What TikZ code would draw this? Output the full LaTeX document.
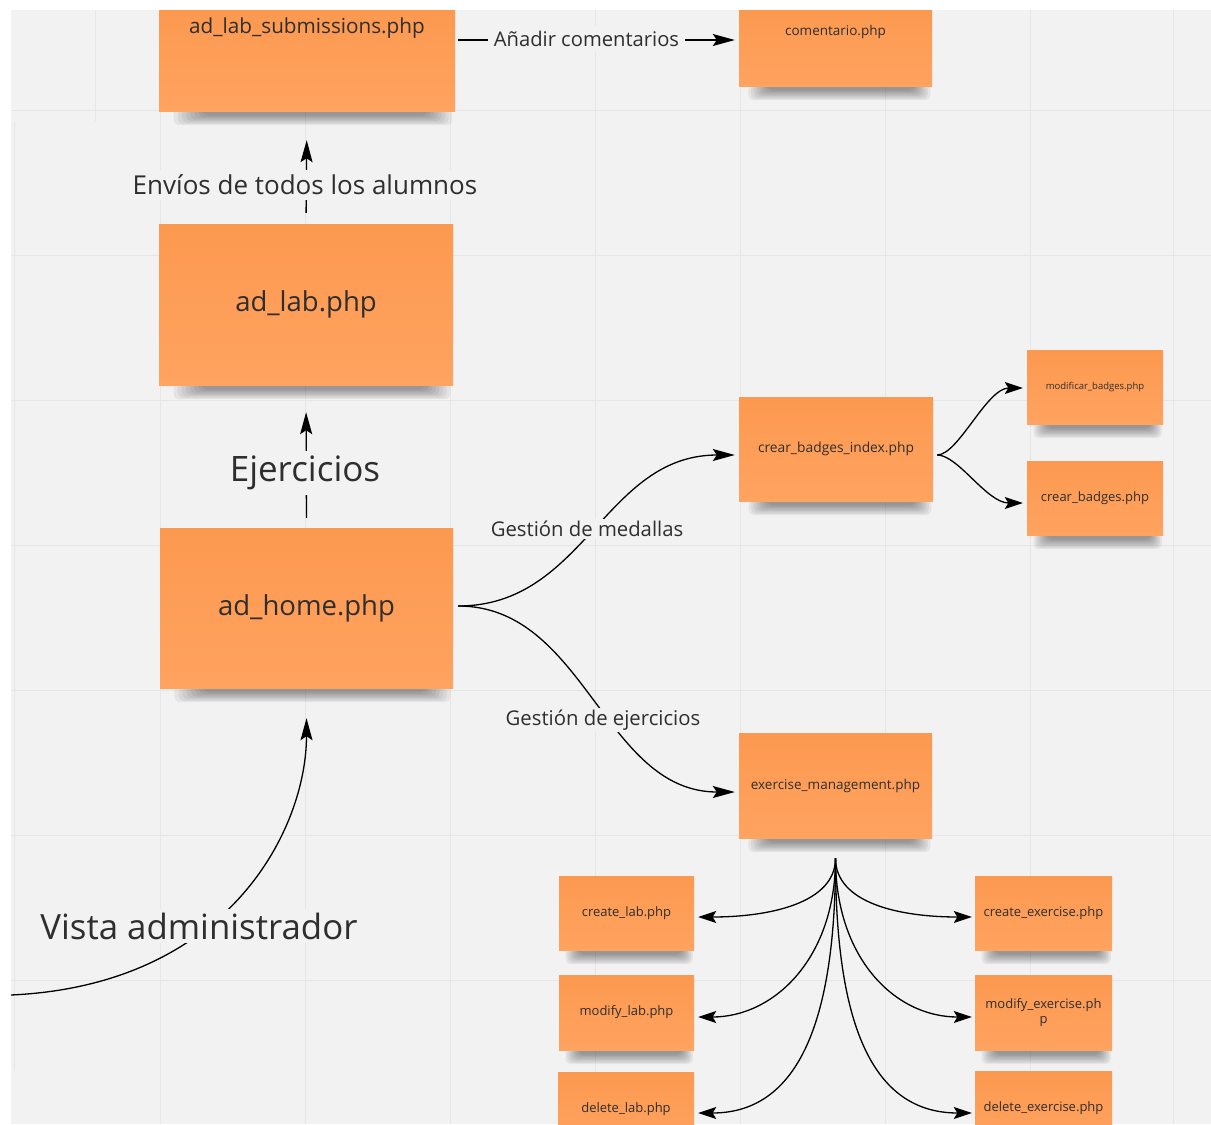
\documentclass[tikz,border=0pt]{standalone}
\usepackage{fontspec}
\setmainfont{Open Sans}
\usetikzlibrary{arrows.meta,calc}

\definecolor{canvas}{HTML}{F2F2F2}
\definecolor{gridline}{HTML}{E6E6E6}
\definecolor{noteTop}{HTML}{FC9950}
\definecolor{noteBot}{HTML}{FFA360}
\definecolor{ink}{HTML}{2E2E2E}

\pgfdeclarelayer{bg}
\pgfdeclarelayer{shadow}
\pgfsetlayers{bg,shadow,main}

\newcommand\fs[1]{\fontsize{#1}{#1}\selectfont}

\tikzset{
  note/.style={draw=none, top color=noteTop, bottom color=noteBot,
    text=ink, inner sep=0pt, align=center},
  link/.style={line width=1.3pt, black},
  tip/.style={-{Stealth[length=22pt,width=12pt,inset=4pt]}},
  smalltip/.style={-{Stealth[length=18pt,width=12pt,inset=3.5pt]}},
  lbl/.style={fill=canvas, text=ink, inner xsep=6pt, inner ysep=5pt},
}

% soft shadow along the lower edge of a sticky note
\newcommand\noteshadow[1]{%
  \begin{pgfonlayer}{shadow}
  \foreach \k in {0,...,7}{%
    \pgfmathsetmacro\sa{0.05+0.014*\k}%
    \pgfmathsetmacro\sb{0.99-0.012*\k}%
    \pgfmathsetmacro\sd{14-1.4*\k}%
    \fill[black,opacity=0.055,rounded corners=5pt]
      ($(#1.south west)!\sa!(#1.south east)+(0,-3)$) rectangle
      ($(#1.south west)!\sb!(#1.south east)+(0,\sd)$);
  }%
  \end{pgfonlayer}}

\begin{document}
\begin{tikzpicture}[x=1pt,y=-1pt]
\useasboundingbox (0,0) rectangle (1211,1125);

% board with its grid
\begin{pgfonlayer}{bg}
  \fill[white] (0,0) rectangle (1211,1125);
  \fill[canvas] (11,10) rectangle (1211,1124);
  \foreach \gx in {160,305,...,1030}
    \draw[gridline, line width=1pt] (\gx,10) -- (\gx,1124);
  \draw[gridline, line width=1pt] (1173,10) -- (1173,1124);
  \foreach \gy in {110,255,...,980}
    \draw[gridline, line width=1pt] (11,\gy) -- (1211,\gy);
  \draw[gridline, line width=1pt] (95,10) -- (95,121);
  \draw[gridline, line width=1pt] (14,122) -- (14,1071);
\end{pgfonlayer}

% sticky notes
\node[note, minimum width=296pt, minimum height=101pt, text height=23pt, text depth=78pt, font=\fs{20.7}]
  (sub) at (307,60.5) {ad\_lab\_submissions.php};
\node[note, minimum width=193pt, minimum height=76pt, text height=25pt, text depth=51pt, font=\fs{13.5}]
  (com) at (835.5,48) {comentario.php};
\node[note, minimum width=294pt, minimum height=161pt, font=\fs{27.5}]
  (lab) at (306,304.5) {ad\_lab.php};
\node[note, minimum width=293pt, minimum height=160pt, font=\fs{27.5}]
  (home) at (306.5,608) {ad\_home.php};
\node[note, minimum width=194pt, minimum height=104pt, font=\fs{13.8}]
  (cbi) at (836,449) {crear\_badges\_index.php};
\node[note, minimum width=136pt, minimum height=74pt, font=\fs{9.5}]
  (mb) at (1095,387) {modificar\_badges.php};
\node[note, minimum width=136pt, minimum height=74pt, font=\fs{13}]
  (cb) at (1095,498) {crear\_badges.php};
\node[note, minimum width=193pt, minimum height=105pt, font=\fs{13.5}]
  (em) at (835.5,785.5) {exercise\_management.php};
\node[note, minimum width=135pt, minimum height=74pt, font=\fs{13}]
  (cl) at (626.5,913) {create\_lab.php};
\node[note, minimum width=135pt, minimum height=75pt, font=\fs{13}]
  (ml) at (626.5,1012.5) {modify\_lab.php};
\node[note, minimum width=136pt, minimum height=74pt, font=\fs{13}]
  (dl) at (626,1109) {delete\_lab.php};
\node[note, minimum width=137pt, minimum height=74pt, font=\fs{13}]
  (ce) at (1043.5,913) {create\_exercise.php};
\node[note, minimum width=137pt, minimum height=75pt, font={\fontsize{13}{15}\selectfont}]
  (me) at (1043.5,1012.5) {modify\_exercise.ph\\p};
\node[note, minimum width=137pt, minimum height=74pt, font=\fs{13}]
  (de) at (1043.5,1108) {delete\_exercise.php};

\foreach \n in {sub,com,lab,home,cbi,mb,cb,em,cl,ml,dl,ce,me,de}
  \noteshadow{\n};

% connectors
\coordinate (entry) at (11,995);
\draw[link,tip,shorten >=30pt] (entry) .. controls +(219,-10) and +(0,140) .. (home.south);
\draw[link,tip,shorten <=10pt,shorten >=27pt] (home.north) -- (lab.south);
\draw[link,tip,shorten <=11pt,shorten >=29pt] (lab.north) -- (sub.south);
\draw[link,tip,shorten <=3pt,shorten >=4pt] ([yshift=20.5pt]sub.east) -- ([yshift=8pt]com.west);

\draw[link,tip,shorten <=5pt,shorten >=4pt] ([yshift=2pt]home.east)
  .. controls +(132,0) and +(-135,0) .. ([yshift=-6pt]cbi.west);
\draw[link,tip,shorten <=5pt,shorten >=4pt] ([yshift=2pt]home.east)
  .. controls +(132,0) and +(-135,0) .. ([yshift=-6.5pt]em.west);

\draw[link,smalltip,shorten <=4pt,shorten >=4pt] ([yshift=-6pt]cbi.east)
  .. controls +(25,0) and +(-40,0) .. ([yshift=-1pt]mb.west);
\draw[link,smalltip,shorten <=4pt,shorten >=4pt] ([yshift=-6pt]cbi.east)
  .. controls +(25,0) and +(-40,0) .. ([yshift=-5pt]cb.west);

\draw[link,smalltip,shorten <=20pt,shorten >=4pt] (em.south)
  .. controls +(0,65) and +(75,0) .. ([yshift=-4pt]cl.east);
\draw[link,smalltip,shorten <=20pt,shorten >=4pt] (em.south)
  .. controls +(0,120) and +(80,0) .. ([yshift=-4.5pt]ml.east);
\draw[link,smalltip,shorten <=20pt,shorten >=4pt] (em.south)
  .. controls +(0,170) and +(110,0) .. ([yshift=-4pt]dl.east);
\draw[link,smalltip,shorten <=20pt,shorten >=3pt] (em.south)
  .. controls +(0,65) and +(-75,0) .. ([yshift=-4pt]ce.west);
\draw[link,smalltip,shorten <=20pt,shorten >=3pt] (em.south)
  .. controls +(0,120) and +(-80,0) .. ([yshift=-4.5pt]me.west);
\draw[link,smalltip,shorten <=20pt,shorten >=3pt] (em.south)
  .. controls +(0,170) and +(-110,0) .. ([yshift=-5pt]de.west);

% connector labels
\node[lbl, font=\fs{34.8}, inner ysep=4pt] (lvista) at (199,926) {Vista administrador};
\node[lbl, font=\fs{35}, inner ysep=5pt] (lejer) at (305,473) {Ejercicios};
\node[lbl, font=\fs{26}, inner ysep=5pt] (lenv) at (305,185) {Envíos de todos los alumnos};
\node[lbl, font=\fs{20.2}, inner xsep=6pt] (lcom) at (586.5,39) {Añadir comentarios};
\node[lbl, font=\fs{20.3}, inner xsep=2pt, inner ysep=2pt] (lmed) at (587,529) {Gestión de medallas};
\node[lbl, font=\fs{20.3}, inner xsep=2pt, inner ysep=2pt] (lgej) at (603,720) {Gestión de ejercicios};
\end{tikzpicture}
\end{document}
